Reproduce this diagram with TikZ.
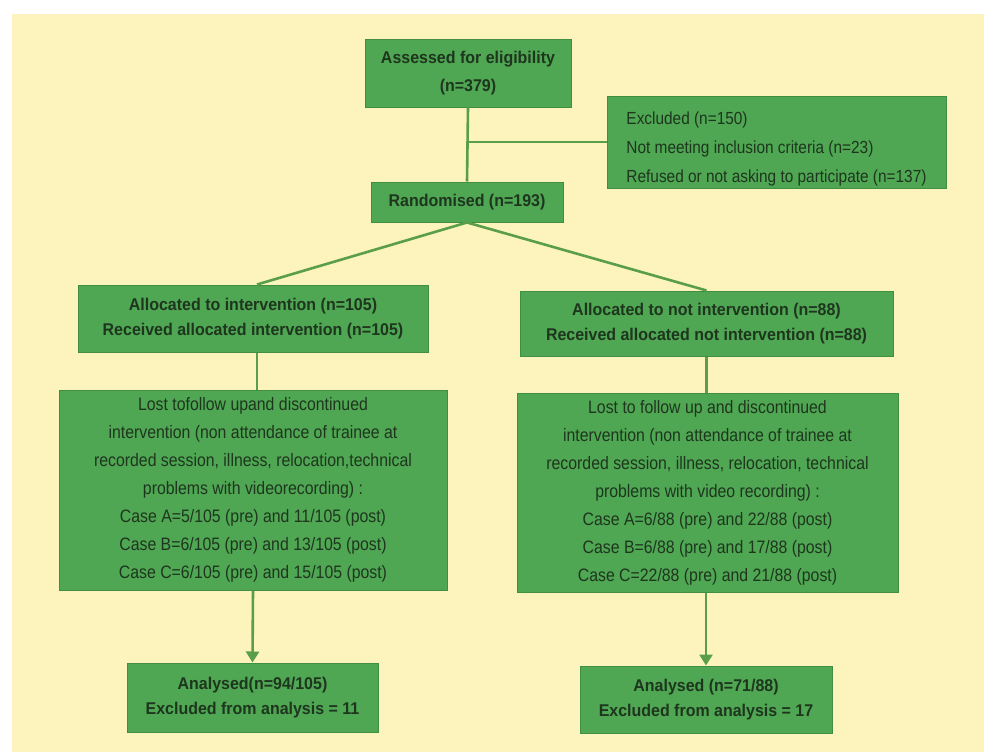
\documentclass[tikz,border=0pt]{standalone}
\usepackage{fontspec}
\setmainfont[FakeStretch=0.88, BoldFeatures={FakeStretch=0.94}]{Liberation Sans}
\usetikzlibrary{arrows.meta}
\definecolor{bgyellow}{HTML}{FCF4BC}
\definecolor{boxgreen}{HTML}{4FA653}
\definecolor{boxedge}{HTML}{3F8E42}
\definecolor{linegreen}{HTML}{5A9E4A}
\definecolor{txt}{HTML}{1E361E}
\tikzset{
  gbox/.style={rectangle, fill=boxgreen, draw=boxedge, line width=1pt, text=txt, inner sep=2pt, align=center},
  ttl/.style={gbox, font=\bfseries\fontsize{17}{25}\selectfont},
  body/.style={gbox, font=\fontsize{18}{28}\selectfont},
  conn/.style={draw=linegreen, line width=2.6pt},
  arr/.style={conn, -{Triangle[length=11pt,width=13pt]}},
}
\begin{document}
\begin{tikzpicture}[x=1pt,y=-1pt]
\fill[white] (0,0) rectangle (984,752);
\fill[bgyellow] (12,14) rectangle (984,752);
\useasboundingbox (0,0) rectangle (984,752);

\node[ttl, minimum width=206pt, minimum height=67pt, font=\bfseries\fontsize{17}{28}\selectfont] (assess) at (468,73.5) {Assessed for eligibility\\(n=379)};
\node[ttl, minimum width=192pt, minimum height=40pt] (rand) at (467,202) {Randomised (n=193)};
\node[body, minimum width=339pt, minimum height=91pt, align=left, font=\fontsize{17.5}{29}\selectfont] (excl) at (776.5,142.5)
  {\rule{0pt}{26pt}Excluded (n=150)\\Not meeting inclusion criteria (n=23)\\Refused or not asking to participate (n=137)};
\node[ttl, minimum width=350pt, minimum height=67pt] (allocL) at (253,318.5)
  {Allocated to intervention (n=105)\\Received allocated intervention (n=105)};
\node[ttl, minimum width=373pt, minimum height=65pt] (allocR) at (706.5,323.5)
  {Allocated to not intervention (n=88)\\Received allocated not intervention (n=88)};
\node[body, minimum width=388pt, minimum height=200pt] (lostL) at (253,490)
  {Lost tofollow upand discontinued\\intervention (non attendance of trainee at\\recorded session, illness, relocation,technical\\problems with videorecording) :\\Case A=5/105 (pre) and 11/105 (post)\\Case B=6/105 (pre) and 13/105 (post)\\Case C=6/105 (pre) and 15/105 (post)};
\node[body, minimum width=381pt, minimum height=199pt] (lostR) at (707.5,492.5)
  {Lost to follow up and discontinued\\intervention (non attendance of trainee at\\recorded session, illness, relocation, technical\\problems with video recording) :\\Case A=6/88 (pre) and 22/88 (post)\\Case B=6/88 (pre) and 17/88 (post)\\Case C=22/88 (pre) and 21/88 (post)};
\node[ttl, minimum width=251pt, minimum height=69pt] (anaL) at (252.5,697.5)
  {Analysed(n=94/105)\\Excluded from analysis = 11};
\node[ttl, minimum width=252pt, minimum height=67pt] (anaR) at (706,699.5)
  {Analysed (n=71/88)\\Excluded from analysis = 17};

\coordinate (junc) at (467,142);
\draw[conn] (assess.south) -- (rand.north);
\draw[conn] (junc) -- (excl.west |- junc);
\draw[conn] (rand.south) -- ([xshift=4pt]allocL.north);
\draw[conn] (rand.south) -- (allocR.north);
\draw[conn] ([xshift=4pt]allocL.south) -- ([xshift=4pt]lostL.north);
\draw[conn] (allocR.south) -- (allocR.south |- lostR.north);
\draw[arr] (lostL.south) -- (anaL.north);
\draw[arr] (lostR.south -| anaR.north) -- (anaR.north);
\end{tikzpicture}
\end{document}
